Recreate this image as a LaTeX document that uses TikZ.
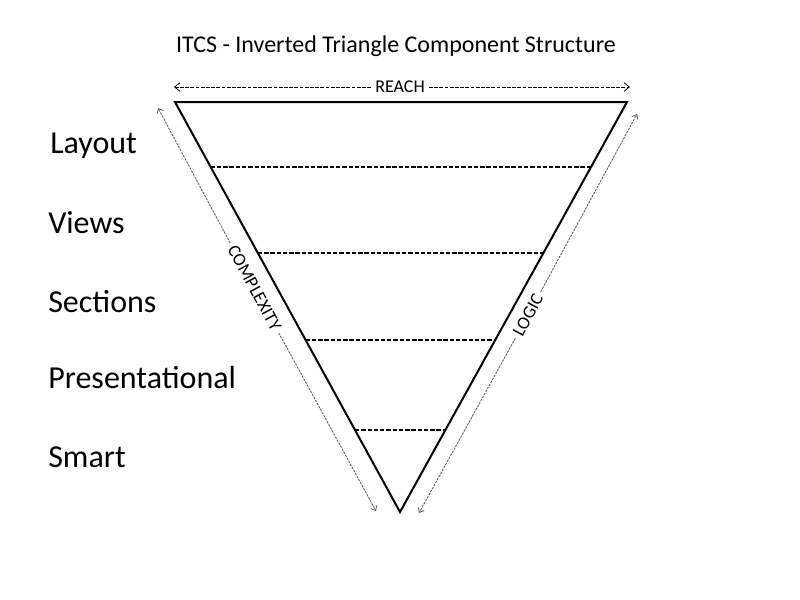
\documentclass[tikz,border=0pt]{standalone}
\usepackage{fontspec}
\setmainfont{Carlito}
\usetikzlibrary{arrows.meta,calc}
\begin{document}
\begin{tikzpicture}[x=0.75pt,y=-0.75pt,
  edge/.style={line width=1.5pt,line join=miter},
  level/.style={line width=1.2pt,dash pattern=on 3.3pt off 1.4pt},
  reacharrow/.style={line width=0.6pt,dash pattern=on 2.8pt off 1.1pt,-{Straight Barb[length=4pt,width=6.5pt,line width=0.6pt]}},
  sidearrow/.style={line width=0.65pt,draw=black!65,dash pattern=on 1.8pt off 0.8pt,-{Straight Barb[length=3pt,width=5pt,line width=0.6pt]}},
  lab/.style={anchor=base west,font=\fontsize{24}{28}\selectfont,inner sep=0pt},
  small/.style={font=\fontsize{13.5}{16}\selectfont,inner sep=3pt}
]
\useasboundingbox (0,0) rectangle (800,600);
\node[anchor=base,font=\fontsize{18}{22}\selectfont,inner sep=0pt] (title) at (396,52) {ITCS - Inverted Triangle Component Structure};

% triangle
\coordinate (tl) at (175,102);
\coordinate (tr) at (627,102);
\coordinate (b) at (400,512);
\draw[edge] (tl) -- (tr) -- (b) -- cycle;

% levels
\foreach \n/\t in {1/0.1585,2/0.3683,3/0.5805,4/0.8}{
  \coordinate (l\n) at ($(tl)!\t!(b)$);
  \coordinate (r\n) at ($(tr)!\t!(b)$);
  \draw[level] (l\n) -- (r\n);
}

% reach
\node[small] (reach) at (400,87) {REACH};
\coordinate (rl) at (174,87);
\coordinate (rr) at (630,87);
\draw[reacharrow] (reach.west) -- (rl);
\draw[reacharrow] (reach.east) -- (rr);

% complexity
\coordinate (ct) at (158,108);
\coordinate (cb) at (376,511);
\node[small,rotate=-61.6] (cx) at (254.5,288) {COMPLEXITY};
\draw[sidearrow] (cx.west) -- (ct);
\draw[sidearrow] (cx.east) -- (cb);

% logic
\coordinate (gt) at (637,114);
\coordinate (gb) at (419,513);
\node[small,rotate=61.35] (lg) at (528,315) {LOGIC};
\draw[sidearrow] (lg.east) -- (gt);
\draw[sidearrow] (lg.west) -- (gb);

% labels
\node[lab] (layout) at (50,153) {Layout};
\node[lab] (views) at (48,233) {Views};
\node[lab] (sections) at (48,312) {Sections};
\node[lab] (pres) at (48,388) {Presentational};
\node[lab] (smart) at (48,467) {Smart};
\end{tikzpicture}
\end{document}
